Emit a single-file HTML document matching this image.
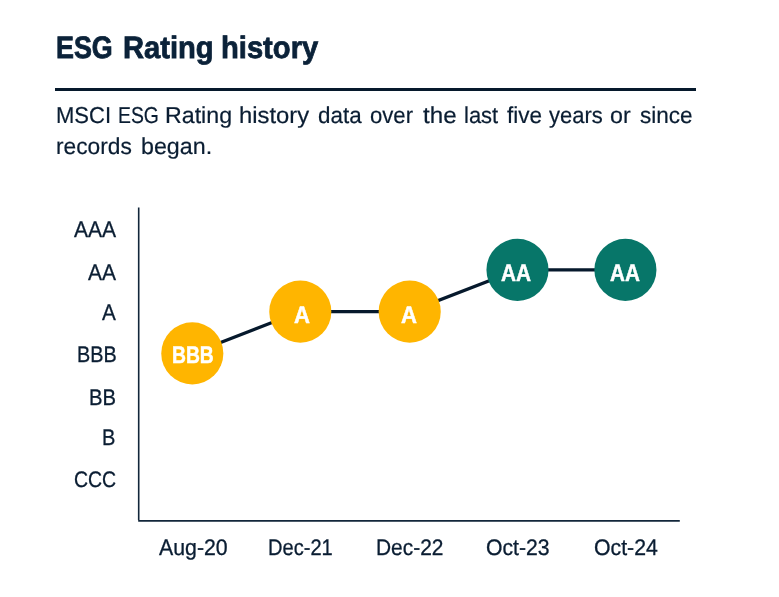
<!DOCTYPE html>
<html lang="en">
<head>
<meta charset="utf-8">
<title>ESG Rating history</title>
<style>
  html,body{margin:0;padding:0;background:#fff;}
  body{width:779px;height:597px;position:relative;overflow:hidden;font-family:"Liberation Sans",sans-serif;color:#0b2239;text-rendering:geometricPrecision;}
  h2,p,ul{margin:0;padding:0;position:absolute;left:0;top:0;list-style:none;font-weight:400;}
  .w{position:absolute;white-space:nowrap;transform-origin:0 0;}
  .hw{font-size:31px;line-height:37px;font-weight:700;color:#0b2239;-webkit-text-stroke:0.8px #0b2239;}
  .pw{font-size:23px;line-height:28px;color:#0a1d32;-webkit-text-stroke:0.2px #0a1d32;}
  .al{font-size:22.5px;line-height:27px;color:#0a1d32;-webkit-text-stroke:0.3px #0a1d32;}
  .cl{font-size:24px;line-height:29px;font-weight:700;color:#fff;-webkit-text-stroke:0.5px #fff;}
  .rule{position:absolute;left:55px;top:88px;width:641px;height:3px;background:#06192c;}
  svg{position:absolute;left:0;top:0;}
</style>
</head>
<body>
<h2><span class="w hw" style="left:56.48px;top:29px;transform:scaleX(0.8667)">ESG</span> <span class="w hw" style="left:122.98px;top:29px;transform:scaleX(0.9402)">Rating</span> <span class="w hw" style="left:221.46px;top:29px;transform:scaleX(0.9405)">history</span></h2>
<div class="rule"></div>
<p><span class="w pw" style="left:56.39px;top:101px;transform:scaleX(0.9567)">MSCI</span> <span class="w pw" style="left:117.58px;top:101px;transform:scaleX(0.8415)">ESG</span> <span class="w pw" style="left:165.03px;top:101px;transform:scaleX(1.009)">Rating</span> <span class="w pw" style="left:238.63px;top:101px;transform:scaleX(1.036)">history</span> <span class="w pw" style="left:318.0px;top:101px;transform:scaleX(0.9739)">data</span> <span class="w pw" style="left:370.28px;top:101px;transform:scaleX(0.9617)">over</span> <span class="w pw" style="left:423.21px;top:101px;transform:scaleX(1.0516)">the</span> <span class="w pw" style="left:464.35px;top:101px;transform:scaleX(0.9546)">last</span> <span class="w pw" style="left:506.64px;top:101px;transform:scaleX(0.9804)">five</span> <span class="w pw" style="left:549.33px;top:101px;transform:scaleX(0.9558)">years</span> <span class="w pw" style="left:609.53px;top:101px;transform:scaleX(1.0103)">or</span> <span class="w pw" style="left:639.56px;top:101px;transform:scaleX(0.9808)">since</span>
<span class="w pw" style="left:55.5px;top:132px;transform:scaleX(0.989)">records</span> <span class="w pw" style="left:140.63px;top:132px;transform:scaleX(1.0109)">began.</span></p>
<svg width="779" height="597" viewBox="0 0 779 597">
  <line x1="138.7" y1="207.4" x2="138.7" y2="520.2" stroke="#12263a" stroke-width="1.6"/>
  <line x1="138.2" y1="520.8" x2="679.8" y2="520.8" stroke="#12263a" stroke-width="1.7"/>
  <polyline points="192.3,353.4 300.3,311.6 409.7,311.6 517.5,269.9 625.4,269.9" fill="none" stroke="#06192c" stroke-width="3.2"/>
  <circle cx="192.3" cy="353.4" r="31.05" fill="#ffb500"/>
  <circle cx="300.3" cy="311.65" r="31.05" fill="#ffb500"/>
  <circle cx="409.7" cy="311.65" r="31.05" fill="#ffb500"/>
  <circle cx="517.5" cy="269.9" r="31.05" fill="#077669"/>
  <circle cx="625.4" cy="269.9" r="31.05" fill="#077669"/>
</svg>
<div class="ylabels"><span class="w al" style="left:74.11px;top:216px;transform:scaleX(0.9363)">AAA</span> <span class="w al" style="left:88.3px;top:259px;transform:scaleX(0.9333)">AA</span> <span class="w al" style="left:102.3px;top:299px;transform:scaleX(0.9197)">A</span> <span class="w al" style="left:76.57px;top:341px;transform:scaleX(0.8805)">BBB</span> <span class="w al" style="left:88.94px;top:384px;transform:scaleX(0.8998)">BB</span> <span class="w al" style="left:101.84px;top:424px;transform:scaleX(0.89)">B</span> <span class="w al" style="left:73.92px;top:466px;transform:scaleX(0.8633)">CCC</span></div>
<div class="xlabels"><span class="w al" style="left:159.43px;top:534px;transform:scaleX(0.9467)">Aug-20</span> <span class="w al" style="left:267.69px;top:534px;transform:scaleX(0.8923)">Dec-21</span> <span class="w al" style="left:376.47px;top:534px;transform:scaleX(0.9303)">Dec-22</span> <span class="w al" style="left:486.01px;top:534px;transform:scaleX(0.9417)">Oct-23</span> <span class="w al" style="left:593.98px;top:534px;transform:scaleX(0.9458)">Oct-24</span></div>
<div class="points"><span class="w cl" style="left:171.71px;top:341px;transform:scaleX(0.8037)">BBB</span> <span class="w cl" style="left:293.55px;top:301px;transform:scaleX(0.9208)">A</span> <span class="w cl" style="left:400.93px;top:301px;transform:scaleX(0.9219)">A</span> <span class="w cl" style="left:501.19px;top:259px;transform:scaleX(0.8676)">AA</span> <span class="w cl" style="left:610.17px;top:259px;transform:scaleX(0.8617)">AA</span></div>
</body>
</html>
